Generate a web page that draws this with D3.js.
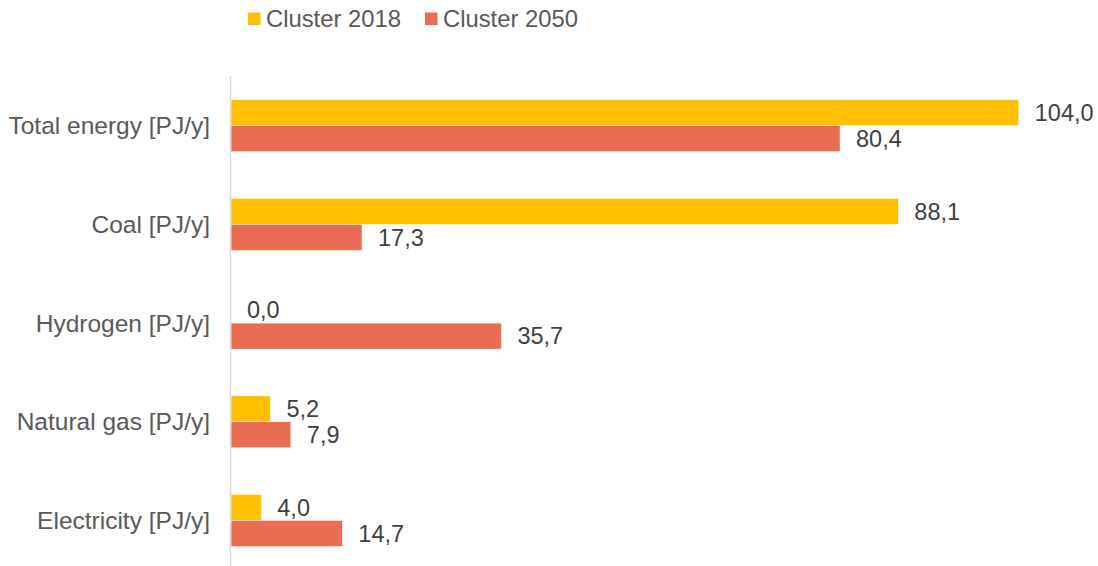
<!DOCTYPE html>
<html>
<head>
<meta charset="utf-8">
<script src="https://cdn.jsdelivr.net/npm/d3@7"></script>
<style>
  body { margin: 0; background: #fff; }
  text { font-family: "Liberation Sans", Arial, sans-serif; }
</style>
</head>
<body>
<script>

var categories = ["Total energy [PJ/y]", "Coal [PJ/y]", "Hydrogen [PJ/y]", "Natural gas [PJ/y]", "Electricity [PJ/y]"];
var seriesNames = ["Cluster 2018", "Cluster 2050"];
var values2018 = [104.0, 88.1, 0.0, 5.2, 4.0];
var values2050 = [80.4, 17.3, 35.7, 7.9, 14.7];
var seriesColors = ["#FFC000", "#E96C53"];

var width = 1098,
    height = 566;

var locale = d3.formatLocale({ decimal: ",", thousands: ".", grouping: [3], currency: ["", ""] });
var formatValue = locale.format(".1f");

var svg = d3.select("body").append("svg")
    .attr("width", width)
    .attr("height", height);

var x = d3.scaleLinear()
    .domain([0, 120])
    .range([231, 1140]);

var y = d3.scaleBand()
    .domain(categories)
    .range([76.35, 569.85])
    .paddingInner(0.473)
    .paddingOuter(0.2365);

var ySub = d3.scaleBand()
    .domain(seriesNames)
    .range([0, y.bandwidth()]);

var data = categories.map(function(c, i) {
    return { name: c, values: [values2018[i], values2050[i]] };
});

// bars
var groups = svg.selectAll(".group")
    .data(data)
    .enter().append("g")
        .attr("class", "group")
        .attr("transform", function(d) { return "translate(0," + y(d.name) + ")"; });

groups.selectAll("rect")
    .data(function(d) { return d.values; })
    .enter().append("rect")
        .attr("x", x(0))
        .attr("y", function(d, i) { return ySub(seriesNames[i]); })
        .attr("width", function(d) { return x(d) - x(0); })
        .attr("height", ySub.bandwidth())
        .attr("fill", function(d, i) { return seriesColors[i]; })
        .attr("stroke", "#fff")
        .attr("stroke-width", 0.5);

groups.selectAll(".label")
    .data(function(d) { return d.values; })
    .enter().append("text")
        .attr("class", "label")
        .attr("x", function(d) { return x(d) + 16; })
        .attr("y", function(d, i) { return ySub(seriesNames[i]) + ySub.bandwidth() / 2; })
        .attr("dy", "0.35em")
        .attr("font-size", "23.5px")
        .attr("fill", "#404040")
        .text(function(d) { return formatValue(d); });

// vertical axis line
svg.append("line")
    .attr("x1", 230.5)
    .attr("x2", 230.5)
    .attr("y1", 76)
    .attr("y2", height)
    .attr("stroke", "#d9d9d9")
    .attr("stroke-width", 1.5);

// category labels
svg.selectAll(".cat")
    .data(categories)
    .enter().append("text")
        .attr("class", "cat")
        .attr("x", 210)
        .attr("y", function(d) { return y(d) + y.bandwidth() / 2; })
        .attr("dy", "0.35em")
        .attr("text-anchor", "end")
        .attr("font-size", "24.5px")
        .attr("fill", "#595959")
        .text(function(d) { return d; });

// legend
var legendX = [248, 425];
var legend = svg.selectAll(".legend")
    .data(seriesNames)
    .enter().append("g")
        .attr("class", "legend")
        .attr("transform", function(d, i) { return "translate(" + legendX[i] + ",0)"; });

legend.append("rect")
    .attr("x", 0)
    .attr("y", 12.5)
    .attr("width", 12.5)
    .attr("height", 12.5)
    .attr("fill", function(d, i) { return seriesColors[i]; });

legend.append("text")
    .attr("x", 18)
    .attr("y", 26.5)
    .attr("font-size", "23.8px")
    .attr("fill", "#595959")
    .text(function(d) { return d; });

</script>
</body>
</html>
